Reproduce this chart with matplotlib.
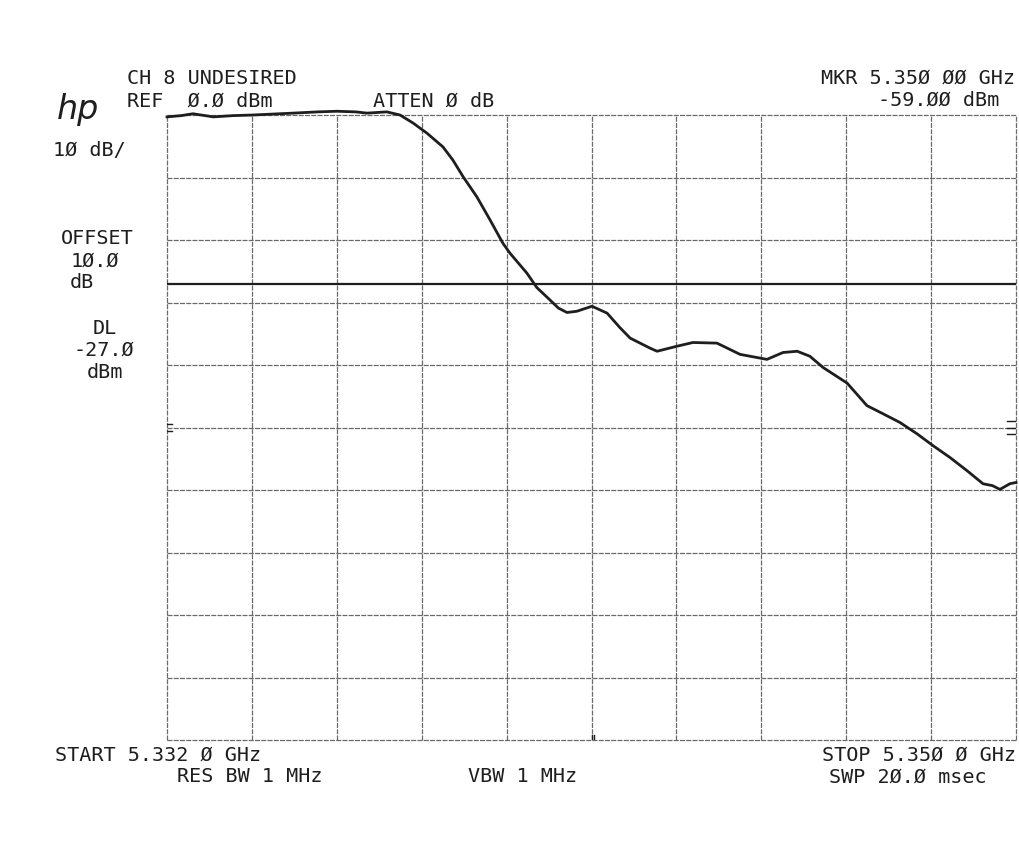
#!/usr/bin/env python3
"""
HP spectrum analyzer plot - CH 8 undesired response
5.332 GHz to 5.350 GHz, 10 dB/div, display line at -27 dBm
"""

import numpy as np
import matplotlib.pyplot as plt

# Sweep settings
f_start = 5332.0   # MHz
f_stop = 5350.0    # MHz
ref_level = 0.0    # dBm
db_per_div = 10.0
display_line = -27.0  # dBm

# Trace (frequency in MHz, level in dBm)
freq_mhz = [5332.00, 5332.30, 5332.55, 5332.98, 5333.40, 5333.82, 5334.67, 5335.20,
            5335.60, 5336.00, 5336.24, 5336.66, 5336.94, 5337.22, 5337.51, 5337.85,
            5338.06, 5338.28, 5338.57, 5338.85, 5339.12, 5339.27, 5339.63, 5339.84,
            5340.12, 5340.30, 5340.48, 5340.69, 5341.01, 5341.33, 5341.60, 5341.82,
            5342.24, 5342.39, 5342.81, 5343.15, 5343.66, 5344.15, 5344.72, 5345.06,
            5345.36, 5345.63, 5345.91, 5346.42, 5346.84, 5347.18, 5347.54, 5347.90,
            5348.24, 5348.60, 5348.96, 5349.30, 5349.50, 5349.66, 5349.87, 5350.00]
level_dbm = [-0.3, -0.1, 0.2, -0.3, -0.1, 0.0, 0.3, 0.5,
             0.6, 0.5, 0.3, 0.5, 0.0, -1.3, -2.9, -5.1,
             -7.2, -9.9, -13.1, -16.8, -20.5, -22.1, -25.3, -27.6,
             -29.6, -30.9, -31.6, -31.4, -30.6, -31.7, -34.0, -35.7,
             -37.3, -37.8, -37.0, -36.4, -36.5, -38.3, -39.1, -38.0,
             -37.8, -38.6, -40.4, -42.9, -46.5, -47.8, -49.2, -51.0,
             -52.9, -54.8, -56.9, -59.0, -59.3, -59.9, -59.0, -58.8]

INK = '#1e1e1e'
GRID = '#6a6a6a'
FONT = 'DejaVu Sans Mono'
FS = 14.5

fig = plt.figure(figsize=(10.2, 8.48), dpi=100)
ax = fig.add_axes([167 / 1020, 1 - 740 / 848, (1016 - 167) / 1020, (740 - 115) / 848])

bottom = ref_level - 10 * db_per_div
ax.set_xlim(f_start, f_stop)
ax.set_ylim(bottom, ref_level)

# 10 x 10 graticule
for xv in np.linspace(f_start, f_stop, 11):
    ax.axvline(xv, color=GRID, lw=0.9, ls=(0, (4, 1)), zorder=1, clip_on=False)
for yv in np.linspace(bottom, ref_level, 11):
    ax.axhline(yv, color=GRID, lw=0.9, ls=(0, (4, 1)), zorder=1, clip_on=False)

# display line
ax.axhline(display_line, color=INK, lw=1.6, zorder=2)

# trace
ax.plot(freq_mhz, level_dbm, color=INK, lw=2.0, zorder=3, clip_on=False)

# small reference marks on the graticule edges
for yv in (-49.0, -50.0, -51.0):
    ax.plot([f_stop - 0.2, f_stop], [yv, yv], color=INK, lw=1.0, zorder=2)
for yv in (-49.5, -50.5):
    ax.plot([f_start, f_start + 0.1], [yv, yv], color=INK, lw=1.0, zorder=2)
for xv in (5341.00, 5341.06):
    ax.plot([xv, xv], [bottom, bottom + 0.8], color=INK, lw=1.0, zorder=2)

ax.set_xticks([])
ax.set_yticks([])
for s in ax.spines.values():
    s.set_visible(False)


def label(x, y, s, ha='left', **kw):
    fig.text(x / 1020, 1 - y / 848, s, ha=ha, va='center', family=FONT,
             fontsize=FS, color=INK, **kw)


# header
label(127, 79, 'CH 8 UNDESIRED')
label(127, 101, 'REF  Ø.Ø dBm')
label(373, 101, 'ATTEN Ø dB')
label(1015, 78, 'MKR 5.35Ø ØØ GHz', ha='right')
label(999, 100, '-59.ØØ dBm', ha='right')

# hp logo
fig.text(78 / 1020, 1 - 110 / 848, 'hp', ha='center', va='center', fontsize=24,
         family='DejaVu Sans', style='italic', weight='light', color=INK)

# left side annotations
label(53, 150, '1Ø dB/')
label(97, 239, 'OFFSET', ha='center')
label(95, 261, '1Ø.Ø', ha='center')
label(82, 283, 'dB', ha='center')
label(105, 328, 'DL', ha='center')
label(104, 350, '-27.Ø', ha='center')
label(105, 373, 'dBm', ha='center')

# footer
label(55, 755, 'START 5.332 Ø GHz')
label(177, 777, 'RES BW 1 MHz')
label(468, 777, 'VBW 1 MHz')
label(1016, 755, 'STOP 5.35Ø Ø GHz', ha='right')
label(987, 777, 'SWP 2Ø.Ø msec', ha='right')

fig.savefig('out.png', dpi=100, facecolor='white')
